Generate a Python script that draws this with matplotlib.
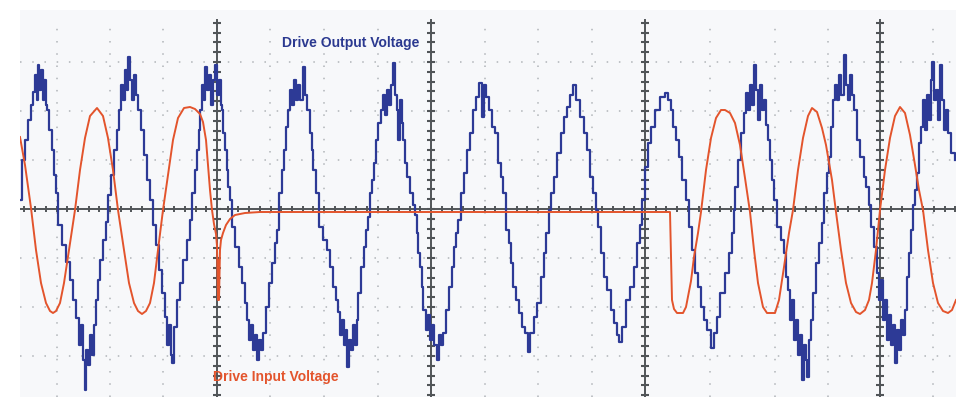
import matplotlib.pyplot as plt
import numpy as np

# scope capture: time in ms, voltage in V (98 V per division)
output_pts = [
    (0.0, 18), (0.4, 98), (1.0, 138), (1.6, 178), (2.2, 208), (2.6, 234), (3.0, 268), (3.4, 218),
    (3.6, 288), (3.8, 238), (4.2, 278), (4.6, 218), (4.8, 258), (5.2, 208), (5.4, 198), (5.8, 158),
    (6.4, 118), (6.8, 68), (7.2, 32), (7.6, -32), (8.4, -72), (9.2, -106), (10.0, -142), (10.6, -182),
    (11.2, -218), (11.8, -272), (12.2, -232), (12.6, -302), (13.0, -362), (13.2, -282), (13.6, -312),
    (14.0, -252), (14.4, -292), (14.8, -232), (15.2, -182), (15.6, -142), (16.0, -102), (16.6, -62),
    (17.2, -26), (17.6, 28), (18.2, 68), (18.8, 118), (19.4, 158), (19.8, 198),
    (20.2, 248), (20.6, 218), (21.0, 278), (21.4, 238), (21.6, 304), (22.0, 258), (22.4, 218),
    (22.8, 268), (23.2, 228), (23.6, 198), (24.2, 158), (24.8, 108), (25.4, 58), (26.0, 18),
    (26.6, -32), (27.2, -72), (27.8, -122), (28.4, -168), (29.0, -216), (29.4, -272), (29.8, -232),
    (30.2, -292), (30.4, -308), (30.8, -236), (31.4, -182), (32.0, -148), (32.6, -102), (33.4, -62),
    (34.0, -22), (34.4, 32), (35.0, 78), (35.4, 118), (35.8, 158), (36.0, 198),
    (36.4, 248), (36.8, 218), (37.0, 284), (37.4, 238), (37.8, 268), (38.2, 208), (38.6, 258),
    (39.0, 288), (39.4, 228), (39.8, 258), (40.2, 208), (40.4, 198), (40.6, 152), (41.0, 118),
    (41.4, 78), (41.6, 44), (42.0, 18), (42.4, -36), (43.0, -76), (43.8, -116), (44.4, -148),
    (45.0, -188), (45.4, -222), (45.8, -262), (46.2, -232), (46.6, -282), (47.0, -252), (47.4, -302),
    (47.8, -262), (48.2, -282), (48.6, -248), (49.2, -196), (49.8, -148), (50.4, -108), (51.0, -68),
    (51.4, -42), (51.8, 32), (52.4, 78), (52.8, 118), (53.2, 164), (53.6, 198),
    (54.0, 238), (54.4, 208), (54.8, 258), (55.2, 218), (55.6, 248), (56.0, 218), (56.6, 284),
    (57.0, 228), (57.4, 198), (58.0, 152), (58.4, 118), (58.6, 78), (59.2, 32), (59.8, -36),
    (60.6, -62), (61.4, -82), (62.0, -116), (62.6, -156), (63.2, -182), (63.6, -206), (64.0, -252),
    (64.4, -222), (64.8, -272), (65.2, -242), (65.4, -316), (65.8, -262), (66.2, -282), (66.6, -232),
    (67.0, -272), (67.4, -222), (67.6, -168), (68.2, -116), (68.8, -76), (69.2, -42), (69.6, -16),
    (70.0, 32), (70.4, 58), (70.8, 92), (71.2, 138), (71.6, 172), (72.2, 198),
    (72.6, 228), (73.0, 188), (73.4, 238), (73.8, 208), (74.2, 248), (74.6, 292), (75.0, 228),
    (75.4, 198), (75.6, 138), (76.0, 218), (76.4, 172), (76.6, 138), (77.0, 92), (77.4, 64),
    (78.0, 32), (78.6, 8), (79.0, -12), (79.4, -48), (79.6, -88), (80.0, -116), (80.4, -156),
    (80.6, -202), (81.2, -242), (81.6, -212), (82.0, -262), (82.4, -232), (82.8, -272), (83.4, -302),
    (83.8, -252), (84.2, -272), (84.6, -248), (85.2, -202), (85.8, -156), (86.4, -116), (86.8, -76),
    (87.2, -48), (87.6, -22), (88.2, 32), (88.8, 72), (89.4, 118), (90.0, 152), (90.6, 198),
    (91.2, 224), (91.8, 252), (92.4, 184), (92.8, 248), (93.2, 224), (93.8, 198), (94.4, 164),
    (95.0, 152), (95.6, 92), (96.2, 64), (96.6, 32), (97.2, -42), (97.8, -68), (98.2, -108),
    (98.6, -156), (99.2, -182), (99.8, -208), (100.4, -236), (101.0, -248), (101.6, -286),
    (102.0, -248), (102.8, -216), (103.4, -188), (104.2, -136), (104.8, -88), (105.2, -48),
    (105.8, -2), (106.2, 32), (106.8, 64), (107.4, 112), (108.2, 152), (108.8, 184), (109.4, 204),
    (110.0, 228), (110.6, 248), (111.2, 218), (112.0, 184), (112.8, 152), (113.4, 118), (114.0, 64),
    (114.6, 32), (115.2, -2), (115.6, -36), (116.2, -88), (116.8, -136), (117.4, -162), (118.2, -202),
    (118.8, -228), (119.4, -252), (119.8, -266), (120.4, -236), (121.2, -182), (122.0, -156),
    (122.8, -116), (123.4, -68), (124.0, -32), (124.4, 18), (125.0, 84), (125.6, 132), (126.2, 164),
    (127.0, 198), (128.0, 224), (129.0, 232), (129.6, 218), (130.2, 198), (130.6, 164), (131.2, 138),
    (131.8, 104), (132.4, 58), (133.2, 18), (133.8, -36), (134.4, -82), (135.0, -128), (135.6, -156),
    (136.2, -196), (136.8, -222), (137.4, -242), (138.2, -278), (138.8, -248), (139.4, -216),
    (140.0, -168), (141.0, -128), (141.8, -88), (142.4, -48), (142.8, -2), (143.0, 44), (143.6, 98),
    (144.2, 152), (144.8, 192), (145.2, 232), (145.6, 198), (146.0, 248), (146.4, 208), (146.8, 288),
    (147.2, 238), (147.6, 178), (148.0, 248), (148.4, 198), (148.8, 218), (149.2, 168), (149.6, 138),
    (150.0, 98), (150.4, 58), (150.8, 18), (151.4, -36), (152.2, -62), (152.8, -88), (153.2, -136),
    (153.6, -162), (154.0, -222), (154.4, -182), (154.8, -262), (155.2, -222), (155.6, -292),
    (156.0, -252), (156.4, -342), (156.8, -272), (157.2, -302), (157.4, -336), (157.8, -262),
    (158.2, -222), (158.6, -168), (159.2, -108), (159.8, -68), (160.4, -28), (160.8, 32), (161.4, 72),
    (161.8, 104), (162.2, 164), (162.6, 218), (163.0, 248), (163.4, 218), (163.8, 268), (164.2, 228),
    (164.8, 308), (165.2, 248), (165.6, 218), (166.0, 268), (166.4, 228), (166.8, 198), (167.4, 138),
    (168.0, 104), (168.8, 64), (169.2, 44), (169.8, 8), (170.2, -36), (170.8, -76), (171.4, -128),
    (171.8, -182), (172.2, -142), (172.6, -222), (173.0, -182), (173.4, -262), (173.8, -212),
    (174.2, -272), (174.6, -232), (175.0, -308), (175.4, -242), (175.8, -282), (176.2, -222),
    (176.6, -252), (177.0, -202), (177.4, -136), (177.8, -88), (178.2, -42), (178.6, 8), (179.0, 38),
    (179.4, 72), (179.8, 132), (180.2, 164), (180.6, 218), (181.0, 158), (181.4, 228), (181.8, 178),
    (182.2, 258), (182.4, 294), (182.8, 218), (183.2, 238), (183.6, 178), (184.0, 288), (184.4, 218),
    (184.8, 158), (185.2, 198), (185.6, 152), (186.2, 112), (187.0, 98),
]

input_pts = [
    (0.0, 144), (1.0, 88), (2.2, 2), (3.2, -82), (4.2, -148), (5.2, -188), (6.0, -204), (6.6, -208),
    (7.2, -204), (8.0, -188), (8.8, -148), (9.8, -82), (11.0, -2), (12.0, 78), (13.0, 142),
    (14.0, 186), (15.4, 202), (16.6, 186), (17.6, 142), (18.6, 78), (19.6, -2), (20.8, -82),
    (21.8, -148), (22.8, -188), (23.6, -204), (24.4, -210), (25.2, -204), (26.0, -188), (26.8, -148),
    (27.6, -82), (28.6, -2), (29.6, 68), (30.6, 138), (31.6, 182), (32.8, 202), (34.0, 204),
    (35.0, 200), (36.0, 190), (36.6, 174), (37.2, 138), (37.6, 88), (38.0, 38), (38.4, -2),
    (38.8, -30), (39.2, -50), (39.4, -74), (39.6, -182), (39.7, -102), (39.8, -182), (40.0, -82),
    (40.2, -62), (40.6, -48), (41.2, -32), (42.0, -20), (43.0, -12), (45.0, -8), (48.0, -6),
    (130.0, -6), (130.4, -182), (130.8, -200), (131.4, -208), (132.6, -208), (133.2, -196),
    (134.2, -144), (134.8, -96), (135.6, -48), (136.2, -6), (137.2, 78), (138.2, 142), (139.2, 182),
    (140.2, 198), (141.0, 198), (142.0, 192), (143.0, 172), (144.0, 128), (145.0, 62), (146.0, -6),
    (146.8, -82), (147.6, -148), (148.6, -196), (149.4, -208), (151.0, -208), (151.8, -182),
    (152.8, -116), (153.8, -48), (154.6, -2), (155.6, 78), (156.6, 142), (157.6, 186), (158.4, 202),
    (159.4, 194), (160.4, 162), (161.2, 128), (162.4, 58), (163.2, -6), (164.2, -82), (165.2, -148),
    (166.2, -188), (167.2, -206), (168.0, -210), (169.0, -202), (169.8, -182), (170.4, -148),
    (171.2, -82), (172.0, -2), (173.0, 78), (174.0, 142), (175.0, 186), (176.0, 204), (177.0, 192),
    (178.0, 148), (179.0, 88), (179.8, 38), (180.6, -2), (181.6, -82), (182.6, -148), (183.6, -188),
    (184.6, -204), (185.6, -208), (186.4, -202), (187.2, -182),
]

major_t = [39.4, 82.2, 125.0, 172.0]
minor_t = [7.4, 18.0, 28.6, 50.0, 60.8, 71.6, 93.0, 103.6, 114.4, 138.0, 151.0, 161.6, 182.6]
rows_v = [-294, -196, -98, 98, 196, 294]

out_t, out_v = np.array(output_pts).T
in_t, in_v = np.array(input_pts).T

fig = plt.figure(figsize=(9.56, 3.97), dpi=100)
ax = fig.add_axes([20 / 956, 0, 936 / 956, 387 / 397])
ax.set_xlim(0, 187.2)
ax.set_ylim(-376, 398)
ax.axis('off')
ax.add_patch(plt.Rectangle((0, -376), 187.2, 774, color='#f7f8fa', zorder=0))

# dotted graticule
for t in minor_t:
    ax.plot([t, t], [-376, 378], color='#b0b4b8', lw=1.1, ls=(0, (1, 7)), zorder=1)
for v in rows_v:
    ax.plot([0, 187.2], [v, v], color='#b0b4b8', lw=1.1, ls=(0, (1, 7)), zorder=1)

# centre axes with tick marks
ax.plot([0, 187.2], [0, 0], color='#515558', lw=1.4, zorder=2)
ht = np.arange(0.88, 187.2, 2.14)
ax.plot(ht, np.zeros_like(ht), ls='none', marker='|', ms=5, mew=1.4, color='#515558', zorder=2)
vt = np.arange(-19.6 * 19, 378, 19.6)
for t in major_t:
    ax.plot([t, t], [-376, 378], color='#515558', lw=1.4, zorder=2)
    ax.plot(np.full_like(vt, t), vt, ls='none', marker='_', ms=6, mew=1.5, color='#515558', zorder=2)

ax.plot(out_t, out_v, drawstyle='steps-post', color='#2d3a96', lw=1.6, zorder=3)
ax.plot(in_t, in_v, color='#e3542c', lw=1.4, zorder=4)

ax.text(52.4, 332, 'Drive Output Voltage', color='#2b3990', fontsize=10, fontweight='bold',
        family='Liberation Sans', va='center', ha='left', zorder=5)
ax.text(38.6, -336, 'Drive Input Voltage', color='#e3542c', fontsize=10, fontweight='bold',
        family='Liberation Sans', va='center', ha='left', zorder=5)

fig.savefig('out.png', dpi=100, facecolor='white')
